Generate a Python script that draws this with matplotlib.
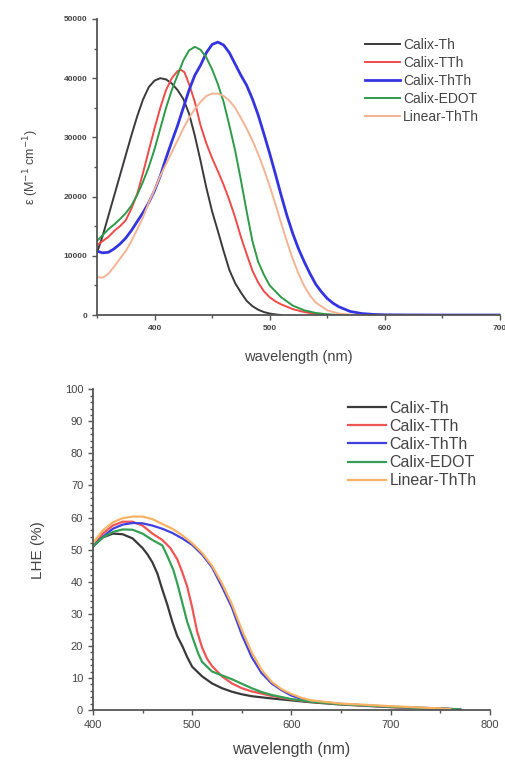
import matplotlib
matplotlib.use("Agg")
import matplotlib.pyplot as plt
from matplotlib.ticker import MultipleLocator

plt.rcParams["font.family"] = ["Liberation Sans", "DejaVu Sans"]

NAMES = ["Calix-Th", "Calix-TTh", "Calix-ThTh", "Calix-EDOT", "Linear-ThTh"]
TOP_COLORS = ["#3a3a3a", "#f04a4a", "#3535e0", "#2f9a48", "#f2b494"]
BOT_COLORS = ["#3a3a3a", "#f05555", "#4040e0", "#35a055", "#f8b264"]

# --- molar absorptivity (top panel), wavelength in nm, eps in M^-1 cm^-1
th_wl = [350, 355, 360, 365, 370, 375, 380, 385, 390, 395, 400, 405, 410, 415,
         420, 425, 430, 435, 440, 445, 450, 455, 460, 465, 470, 475, 480, 485,
         490, 495, 500, 505, 510]
th_eps = [10500, 13400, 16800, 20200, 23600, 27000, 30400, 33600, 36400, 38500,
          39600, 40000, 39800, 39100, 38000, 36500, 34000, 30300, 26000, 21500,
          17500, 14200, 10800, 7600, 5400, 3800, 2400, 1500, 900, 500, 250, 100, 0]

tth_wl = [350, 355, 360, 365, 370, 375, 380, 385, 390, 395, 400, 405, 410, 415,
          420, 423, 426, 430, 435, 440, 445, 450, 455, 460, 465, 470, 475, 480,
          485, 490, 495, 500, 505, 510, 520, 530, 540, 550, 560]
tth_eps = [11800, 12500, 13200, 14200, 15000, 16000, 18000, 20500, 24000, 27800,
           31500, 35000, 38000, 40000, 41200, 41400, 41000, 39000, 36000, 32000,
           29000, 26500, 24300, 22000, 19400, 16500, 13200, 10300, 7500, 5500,
           4000, 3000, 2300, 1800, 1000, 500, 200, 50, 0]

thth_wl = [350, 355, 360, 365, 370, 375, 380, 385, 390, 395, 400, 405, 410, 415,
           420, 425, 430, 435, 440, 445, 450, 455, 460, 465, 470, 475, 480, 485,
           490, 495, 500, 505, 510, 515, 520, 525, 530, 535, 540, 545, 550, 555,
           560, 570, 580, 590, 600, 620, 650, 700]
thth_eps = [10800, 10500, 10600, 11200, 12000, 13000, 14300, 15800, 17300, 19000,
            21000, 23500, 26500, 29300, 32000, 35000, 38000, 40500, 42200, 44300,
            45700, 46100, 45600, 44300, 42400, 40500, 38800, 36500, 33800, 30600,
            27300, 23800, 20200, 16800, 13800, 11200, 9000, 7000, 5200, 3900, 2800,
            2000, 1400, 600, 250, 100, 40, 10, 0, 0]

edot_wl = [350, 355, 360, 365, 370, 375, 380, 385, 390, 395, 400, 405, 410, 415,
           420, 425, 430, 435, 440, 445, 450, 455, 460, 465, 470, 475, 480, 485,
           490, 495, 500, 510, 520, 530, 540, 550, 560]
edot_eps = [12500, 13500, 14500, 15300, 16200, 17200, 18500, 20300, 22500, 25000,
            28000, 31500, 35000, 38000, 40500, 43000, 44700, 45300, 44800, 43500,
            41500, 39000, 36000, 32000, 27800, 22800, 17500, 12500, 9000, 6800,
            5000, 3000, 1600, 800, 350, 120, 0]

lin_wl = [350, 353, 356, 360, 365, 370, 375, 380, 385, 390, 395, 400, 405, 410,
          415, 420, 425, 430, 435, 440, 445, 450, 455, 460, 465, 470, 475, 480,
          485, 490, 495, 500, 505, 510, 515, 520, 525, 530, 535, 540, 550, 560,
          570, 580]
lin_eps = [6500, 6300, 6400, 7000, 8200, 9500, 10800, 12500, 14500, 16500, 19000,
           21200, 23500, 25500, 27500, 29500, 31500, 33300, 34800, 36000, 37000,
           37400, 37400, 37000, 36200, 35000, 33300, 31500, 29500, 27200, 24600,
           21800, 18700, 15500, 12400, 9500, 7000, 4900, 3300, 2100, 800, 250, 60, 0]

# --- light harvesting efficiency (bottom panel), %
lhe_th_wl = [400, 410, 420, 430, 440, 450, 455, 460, 465, 470, 475, 480, 485, 490,
             495, 500, 510, 520, 530, 540, 550, 560, 580, 600, 620, 650, 700, 750, 770]
lhe_th = [51, 53.8, 55, 54.8, 53.5, 50.5, 48.5, 46, 42.5, 37.5, 32.8, 27.5, 23,
          20, 16.5, 13.5, 10.5, 8.3, 6.8, 5.7, 4.9, 4.3, 3.6, 3.0, 2.4, 1.7, 0.9, 0.4, 0.2]

lhe_tth_wl = [400, 410, 420, 430, 440, 450, 460, 470, 478, 485, 490, 495, 500, 505,
              510, 515, 520, 530, 540, 550, 560, 580, 600, 620, 650, 700, 750, 770]
lhe_tth = [51, 55, 57.5, 58.7, 58.7, 57.5, 55, 53, 50.5, 47, 43, 38.5, 32, 24.5,
           19.5, 16, 13.7, 10.5, 8.3, 6.8, 5.8, 4.4, 3.3, 2.6, 1.8, 0.9, 0.4, 0.2]

lhe_thth_wl = [400, 410, 420, 430, 440, 450, 460, 470, 480, 490, 500, 510, 520, 530,
               540, 550, 560, 570, 580, 590, 600, 610, 620, 650, 700, 750, 770]
lhe_thth = [51, 54, 56.5, 57.8, 58.3, 58.2, 57.5, 56.5, 55.2, 53.5, 51.5, 48.5,
            44.5, 38.5, 32, 23.5, 16.5, 11.5, 8.3, 6.2, 4.5, 3.5, 2.8, 1.9, 1.0, 0.5, 0.2]

lhe_edot_wl = [400, 410, 420, 430, 440, 450, 460, 470, 475, 481, 485, 490, 495, 500,
               506, 510, 520, 530, 540, 550, 560, 570, 580, 600, 620, 650, 700, 750, 770]
lhe_edot = [51, 53.8, 55.5, 56.3, 56.2, 55, 53, 51.3, 48, 43.7, 39.5, 33.5, 27.5,
            23, 17.7, 15, 12, 10.8, 9.6, 8.2, 6.8, 5.6, 4.7, 3.4, 2.6, 1.8, 1.0, 0.4, 0.2]

lhe_lin_wl = [400, 410, 420, 430, 440, 450, 460, 470, 480, 490, 500, 510, 520, 530,
              540, 550, 560, 570, 580, 590, 600, 610, 620, 650, 700, 750, 760]
lhe_lin = [52, 56, 58.5, 59.8, 60.3, 60.3, 59.5, 58, 56.5, 54.5, 52, 49, 45, 39.5,
           33, 25, 18, 12.5, 8.8, 6.5, 5, 3.8, 3, 2, 1.2, 0.5, 0.3]

TOP = [(th_wl, th_eps), (tth_wl, tth_eps), (thth_wl, thth_eps),
       (edot_wl, edot_eps), (lin_wl, lin_eps)]
BOT = [(lhe_th_wl, lhe_th), (lhe_tth_wl, lhe_tth), (lhe_thth_wl, lhe_thth),
       (lhe_edot_wl, lhe_edot), (lhe_lin_wl, lhe_lin)]

AXIS_COLOR = "#555555"


def style_axis(ax):
    for side in ["top", "right"]:
        ax.spines[side].set_visible(False)
    for side in ["left", "bottom"]:
        ax.spines[side].set_color(AXIS_COLOR)
        ax.spines[side].set_linewidth(1.3)
    ax.tick_params(which="both", direction="out", color=AXIS_COLOR, width=1.0)
    ax.tick_params(which="major", length=3.5)
    ax.tick_params(which="minor", length=2)


fig = plt.figure(figsize=(5.05, 7.6), dpi=100)

# top panel
ax1 = fig.add_axes([0.192, 0.5855, 0.798, 0.3895])
for (wl, y), name, c in zip(TOP, NAMES, TOP_COLORS):
    lw = 2.0 if name == "Calix-ThTh" else 1.4
    ax1.plot(wl, y, color=c, lw=lw, label=name, solid_joinstyle="round")
ax1.set_xlim(350, 700)
ax1.set_ylim(0, 50000)
ax1.xaxis.set_major_locator(MultipleLocator(100))
ax1.xaxis.set_minor_locator(MultipleLocator(50))
ax1.yaxis.set_major_locator(MultipleLocator(10000))
ax1.yaxis.set_minor_locator(MultipleLocator(5000))
ax1.set_xticks([400, 500, 600, 700])
style_axis(ax1)
for lab in ax1.get_xticklabels() + ax1.get_yticklabels():
    lab.set_fontsize(6)
    lab.set_fontweight("bold")
    lab.set_color("#444444")
ax1.set_xlabel("wavelength (nm)", fontsize=10.5, color="#444444", labelpad=13)
ax1.set_ylabel("ε (M$^{-1}$ cm$^{-1}$)", fontsize=9, color="#444444", labelpad=16)
fig.legend(*ax1.get_legend_handles_labels(), loc="upper left",
           bbox_to_anchor=(0.723, 0.95), frameon=False, fontsize=10,
           handlelength=2.5, handletextpad=0.25, labelspacing=0.28,
           borderpad=0, borderaxespad=0, labelcolor="#444444")

# bottom panel
ax2 = fig.add_axes([0.184, 0.0658, 0.786, 0.422])
for (wl, y), name, c in zip(BOT, NAMES, BOT_COLORS):
    ax2.plot(wl, y, color=c, lw=1.6, label=name, solid_joinstyle="round")
ax2.set_xlim(400, 800)
ax2.set_ylim(0, 100)
ax2.xaxis.set_major_locator(MultipleLocator(100))
ax2.xaxis.set_minor_locator(MultipleLocator(50))
ax2.yaxis.set_major_locator(MultipleLocator(10))
ax2.yaxis.set_minor_locator(MultipleLocator(2))
style_axis(ax2)
for lab in ax2.get_xticklabels() + ax2.get_yticklabels():
    lab.set_fontsize(8)
    lab.set_color("#444444")
ax2.set_xlabel("wavelength (nm)", fontsize=11.5, color="#444444", labelpad=9)
ax2.set_ylabel("LHE (%)", fontsize=11, color="#444444", labelpad=14)
fig.legend(*ax2.get_legend_handles_labels(), loc="upper left",
           bbox_to_anchor=(0.689, 0.473), frameon=False, fontsize=11.5,
           handlelength=2.4, handletextpad=0.2, labelspacing=0.2,
           borderpad=0, borderaxespad=0, labelcolor="#444444")

fig.savefig("out.png", dpi=100)
